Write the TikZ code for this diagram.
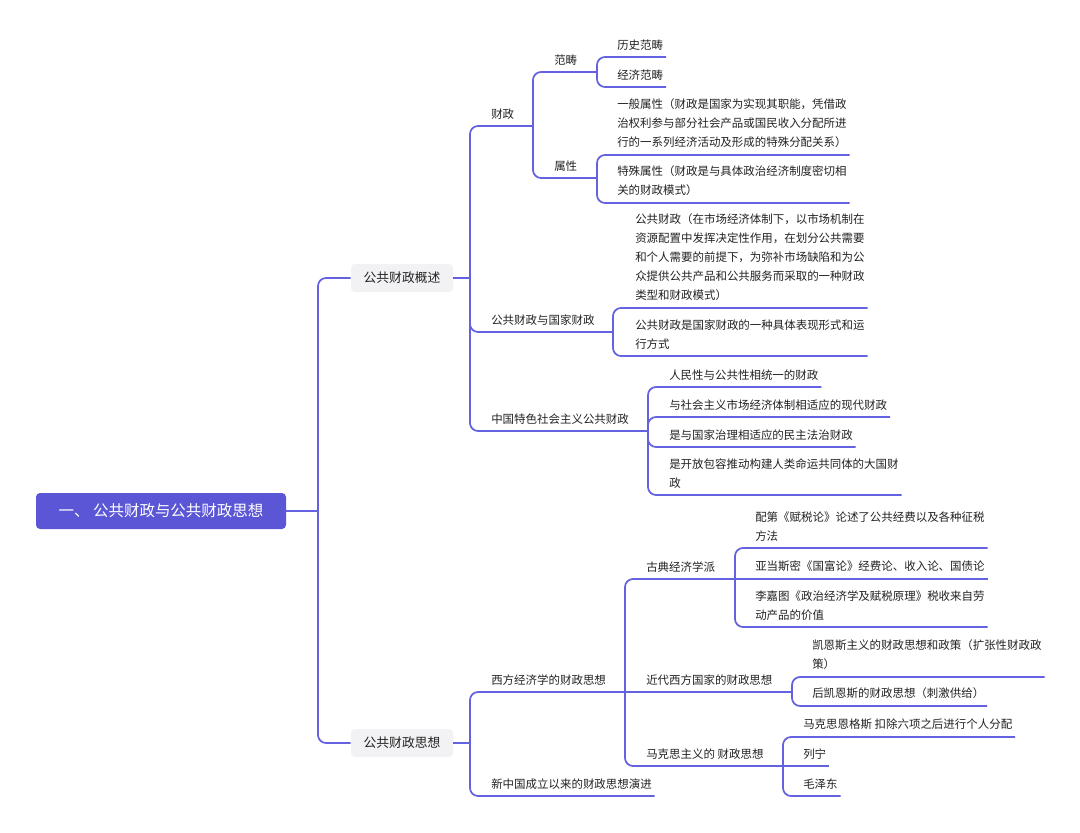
\documentclass[tikz,border=0pt]{standalone}
\usepackage{fontspec}
\setmainfont{Noto Sans CJK SC}
\usetikzlibrary{positioning}
\definecolor{branchblue}{RGB}{100,98,224}
\definecolor{rootfill}{RGB}{90,86,214}
\definecolor{boxgrey}{RGB}{242,242,244}
\definecolor{inkgrey}{RGB}{34,34,34}

\begin{document}
\begin{tikzpicture}[x=0.75pt, y=-0.75pt,
    branch/.style={draw=branchblue, line width=1.3pt, rounded corners=6pt},
    rootbox/.style={fill=rootfill, text=white, rounded corners=3pt, minimum width=187.5pt, minimum height=27pt, font=\fontsize{11.6}{14}\selectfont},
    topicbox/.style={fill=boxgrey, text=inkgrey, rounded corners=3pt, minimum width=76.5pt, minimum height=21pt, font=\fontsize{9.6}{12}\selectfont},
    topic/.style={anchor=south west, inner xsep=0pt, inner ysep=5pt, align=left, text=inkgrey, font=\fontsize{8.6}{14.25}\selectfont}]
    \fill[white] (0,0) rectangle (1080,832);

    % Root
    \node[rootbox] (root) at (161,511) {一、 公共财政与公共财政思想};
    \coordinate (root-j) at (318,511);

    % Main topics
    \node[topicbox] (gk) at (402,278) {公共财政概述};
    \node[topicbox] (sx) at (402,743) {公共财政思想};
    \draw[branch] (root.east) -- (root-j);
    \draw[branch] (root-j) |- (gk.west);
    \draw[branch] (root-j) |- (sx.west);

    % Gonggong caizheng gaishu
    \coordinate (gk-j) at (470,278);
    \draw[branch] (gk.east) -- (gk-j);
    \node[topic] (cz) at (491,126) {财政};
    \node[topic] (gg) at (491,332) {公共财政与国家财政};
    \node[topic] (zt) at (491,431) {中国特色社会主义公共财政};
    \coordinate (cz-j) at (533,126);
    \coordinate (gg-j) at (613,332);
    \coordinate (zt-j) at (648,431);
    \draw[branch] (gk-j) |- (cz-j);
    \draw[branch] (gk-j) |- (gg-j);
    \draw[branch] (gk-j) |- (zt-j);

    % Caizheng
    \node[topic] (fc) at (554,72) {范畴};
    \node[topic] (sxing) at (554,178) {属性};
    \coordinate (fc-j) at (597,72);
    \coordinate (sxing-j) at (597,178);
    \draw[branch] (cz-j) |- (fc-j);
    \draw[branch] (cz-j) |- (sxing-j);

    \node[topic] (ls) at (617,57) {历史范畴};
    \node[topic] (jj) at (617,87) {经济范畴};
    \draw[branch] (fc-j) |- ([xshift=2pt]ls.south east);
    \draw[branch] (fc-j) |- ([xshift=2pt]jj.south east);

    \node[topic] (yb) at (617,155) {一般属性（财政是国家为实现其职能，凭借政\\治权利参与部分社会产品或国民收入分配所进\\行的一系列经济活动及形成的特殊分配关系）};
    \node[topic] (ts) at (617,203) {特殊属性（财政是与具体政治经济制度密切相\\关的财政模式）};
    \draw[branch] (sxing-j) |- ([xshift=2pt]yb.south east);
    \draw[branch] (sxing-j) |- ([xshift=2pt]ts.south east);

    % Gonggong caizheng yu guojia caizheng
    \node[topic] (ggcz) at (635,308) {公共财政（在市场经济体制下，以市场机制在\\资源配置中发挥决定性作用，在划分公共需要\\和个人需要的前提下，为弥补市场缺陷和为公\\众提供公共产品和公共服务而采取的一种财政\\类型和财政模式）};
    \node[topic] (bx) at (635,356) {公共财政是国家财政的一种具体表现形式和运\\行方式};
    \draw[branch] (gg-j) |- ([xshift=2pt]ggcz.south east);
    \draw[branch] (gg-j) |- ([xshift=2pt]bx.south east);

    % Zhongguo tese
    \node[topic] (rm) at (669,387) {人民性与公共性相统一的财政};
    \node[topic] (ys) at (669,417) {与社会主义市场经济体制相适应的现代财政};
    \node[topic] (mz) at (669,447) {是与国家治理相适应的民主法治财政};
    \node[topic] (dg) at (669,495) {是开放包容推动构建人类命运共同体的大国财\\政};
    \draw[branch] (zt-j) |- ([xshift=2pt]rm.south east);
    \draw[branch] (zt-j) |- ([xshift=2pt]ys.south east);
    \draw[branch] (zt-j) |- ([xshift=2pt]mz.south east);
    \draw[branch] (zt-j) |- ([xshift=2pt]dg.south east);

    % Gonggong caizheng sixiang
    \coordinate (sx-j) at (470,743);
    \draw[branch] (sx.east) -- (sx-j);
    \node[topic] (xf) at (491,692) {西方经济学的财政思想};
    \node[topic] (xz) at (491,796) {新中国成立以来的财政思想演进};
    \coordinate (xf-j) at (625,692);
    \draw[branch] (sx-j) |- (xf-j);
    \draw[branch] (sx-j) |- ([xshift=2pt]xz.south east);

    % Xifang jingjixue
    \node[topic] (gd) at (646,579) {古典经济学派};
    \node[topic] (jd) at (646,692) {近代西方国家的财政思想};
    \node[topic] (mk) at (646,766) {马克思主义的 财政思想};
    \coordinate (gd-j) at (735,579);
    \coordinate (jd-j) at (792,692);
    \coordinate (mk-j) at (783,766);
    \draw[branch] (xf-j) |- (gd-j);
    \draw[branch] (xf-j) -- (jd-j);
    \draw[branch] (xf-j) |- (mk-j);

    % Gudian
    \node[topic] (pd) at (755,548) {配第《赋税论》论述了公共经费以及各种征税\\方法};
    \node[topic] (yd) at (755,579) {亚当斯密《国富论》经费论、收入论、国债论};
    \node[topic] (ljt) at (755,627) {李嘉图《政治经济学及赋税原理》税收来自劳\\动产品的价值};
    \draw[branch] (gd-j) |- ([xshift=2pt]pd.south east);
    \draw[branch] (gd-j) -- ([xshift=2pt]yd.south east);
    \draw[branch] (gd-j) |- ([xshift=2pt]ljt.south east);

    % Jindai
    \node[topic] (ks) at (812,677) {凯恩斯主义的财政思想和政策（扩张性财政政\\策）};
    \node[topic] (hk) at (812,706) {后凯恩斯的财政思想（刺激供给）};
    \draw[branch] (jd-j) |- ([xshift=2pt]ks.south east);
    \draw[branch] (jd-j) |- ([xshift=2pt]hk.south east);

    % Makesi
    \node[topic] (me) at (803,737) {马克思恩格斯 扣除六项之后进行个人分配};
    \node[topic] (ln) at (803,766) {列宁};
    \node[topic] (mzd) at (803,796) {毛泽东};
    \draw[branch] (mk-j) |- ([xshift=2pt]me.south east);
    \draw[branch] (mk-j) -- ([xshift=2pt]ln.south east);
    \draw[branch] (mk-j) |- ([xshift=2pt]mzd.south east);
\end{tikzpicture}
\end{document}
